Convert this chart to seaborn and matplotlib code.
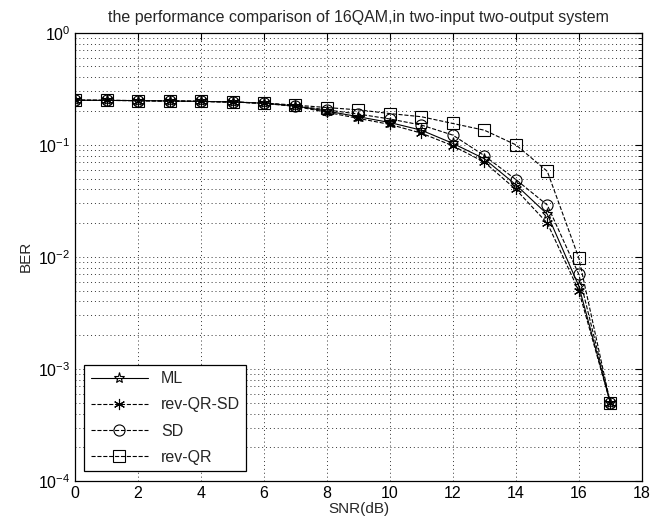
"""
BER vs SNR for 16QAM detectors in a 2x2 system, MATLAB-like look
"""

import matplotlib

matplotlib.use("Agg")
import matplotlib.pyplot as plt
import numpy as np
import seaborn as sns
from matplotlib.ticker import LogLocator, NullFormatter

# SNR points (dB)
snr_db = list(range(0, 18))

# BER
ber_ml = [0.25, 0.249, 0.248, 0.246, 0.244, 0.241, 0.235, 0.222, 0.200, 0.178,
          0.158, 0.135, 0.103, 0.075, 0.044, 0.024, 0.0055, 0.0005]
ber_rev_qr_sd = [0.25, 0.249, 0.248, 0.246, 0.244, 0.241, 0.234, 0.220, 0.195, 0.172,
                 0.152, 0.127, 0.098, 0.070, 0.040, 0.020, 0.005, 0.0005]
ber_sd = [0.25, 0.249, 0.248, 0.246, 0.244, 0.241, 0.235, 0.223, 0.205, 0.188,
          0.170, 0.150, 0.122, 0.080, 0.049, 0.029, 0.007, 0.0005]
ber_rev_qr = [0.25, 0.249, 0.248, 0.246, 0.244, 0.241, 0.236, 0.226, 0.215, 0.205,
              0.190, 0.178, 0.155, 0.135, 0.100, 0.058, 0.0098, 0.0005]

labels = ["ML", "rev-QR-SD", "SD", "rev-QR"]

sns.set_style("white")
plt.rcParams["font.family"] = ["Liberation Sans", "DejaVu Sans"]
plt.rcParams["mathtext.default"] = "regular"
plt.rcParams["font.size"] = 11

fig = plt.figure(figsize=(6.65, 5.28), dpi=100)
ax = fig.add_axes([0.113, 0.089, 0.852, 0.849])

series = [
    (ber_ml, "*", "-"),
    (ber_rev_qr_sd, (6, 2, 0), "--"),
    (ber_sd, "o", "--"),
    (ber_rev_qr, "s", "--"),
]
for (vals, mk, ls), lab in zip(series, labels):
    sns.lineplot(
        x=snr_db,
        y=vals,
        ax=ax,
        color="k",
        marker=mk,
        linestyle=ls,
        linewidth=0.8,
        markersize=8,
        markerfacecolor="none",
        markeredgecolor="k",
        markeredgewidth=0.8,
        label=lab,
    )

ax.set_yscale("log")
ax.set_xlim(0, 18)
ax.set_ylim(1e-4, 1)
ax.set_xticks(np.arange(0, 19, 2))
ax.yaxis.set_major_locator(LogLocator(base=10, numticks=10))
ax.yaxis.set_minor_locator(LogLocator(base=10, subs=np.arange(2, 10), numticks=10))
ax.yaxis.set_minor_formatter(NullFormatter())

grid_kw = dict(linestyle=(0, (1, 3)), color="0.2", linewidth=0.7)
ax.xaxis.grid(True, which="major", **grid_kw)
ax.yaxis.grid(True, which="both", **grid_kw)
ax.tick_params(which="both", direction="in", top=True, right=True, colors="k",
               labelsize=11.5)
ax.tick_params(which="major", length=5)
ax.tick_params(which="minor", length=3)
for sp in ax.spines.values():
    sp.set_color("k")
    sp.set_linewidth(0.9)

ax.set_title("the performance comparison of 16QAM,in two-input two-output system",
             fontsize=11.5, pad=8)
ax.set_xlabel("SNR(dB)", fontsize=11, labelpad=1)
ax.set_ylabel("BER", fontsize=11)

leg = ax.legend(loc="lower left", bbox_to_anchor=(0.016, 0.022), borderaxespad=0,
                handlelength=3.6, labelspacing=0.7, fontsize=11.5, frameon=True,
                fancybox=False, framealpha=1, edgecolor="k")
leg.get_frame().set_linewidth(0.9)

fig.savefig("out.png", dpi=100)
